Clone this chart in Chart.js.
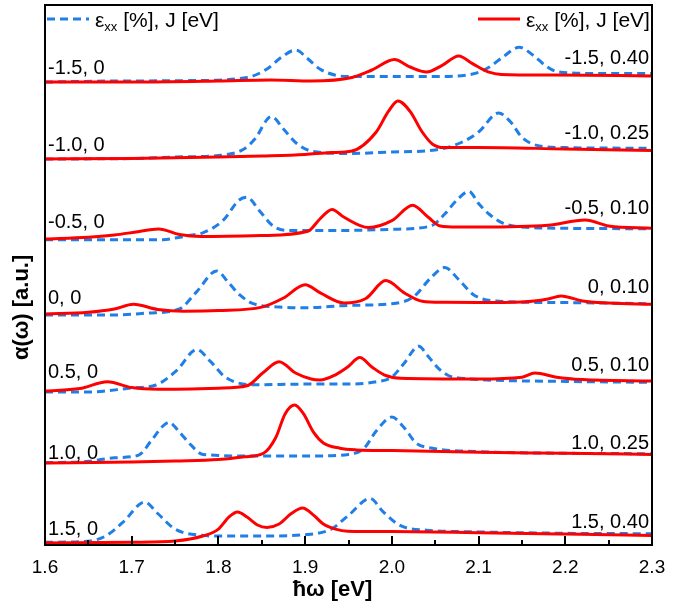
<!DOCTYPE html>
<html>
<head>
<meta charset="utf-8">
<script src="https://cdn.jsdelivr.net/npm/chart.js@4.4.0/dist/chart.umd.min.js"></script>
<style>
  html, body { margin: 0; padding: 0; background: #fff; }
  #wrap { width: 693px; height: 608px; }
</style>
</head>
<body>
<div id="wrap"><canvas id="chart" width="693" height="608"></canvas></div>
<script>
// spectra: [photon energy (eV), alpha (a.u., stacked offset included)]
// red = J > 0, blue dashed = J = 0 ; one pair per strain value
const redM15 = [[1.60,463],[1.70,463],[1.80,464],[1.86,465],[1.907,464],[1.954,467.5],[1.977,475],[2.003,485.4],[2.021,478],[2.04,473],[2.058,479.6],[2.077,489],[2.093,481.4],[2.112,472.8],[2.126,470.6],[2.186,470],[2.30,469]];
const blueM15 = [[1.60,463],[1.685,464],[1.768,464.4],[1.833,467.5],[1.856,476],[1.873,488],[1.889,495],[1.903,486.3],[1.917,476],[1.935,469.8],[1.954,468.4],[2.047,468.4],[2.093,470.9],[2.112,477.7],[2.128,488],[2.147,497.7],[2.163,489.8],[2.177,479.5],[2.191,473.3],[2.233,471.6],[2.30,471.6]];

const redM10 = [[1.60,386],[1.70,386.5],[1.80,388],[1.85,389],[1.90,390.5],[1.93,392.5],[1.954,394],[1.982,413],[1.996,433.6],[2.007,444],[2.021,433.6],[2.035,413],[2.047,400.8],[2.06,397.4],[2.10,397.5],[2.20,396],[2.30,394.6]];
const blueM10 = [[1.60,386],[1.70,386.5],[1.75,388],[1.80,389.5],[1.829,395.7],[1.842,406],[1.861,428.4],[1.875,416],[1.889,402.5],[1.907,394],[1.95,391.5],[2.00,393],[2.05,395],[2.08,402.5],[2.10,413],[2.123,431.9],[2.137,423],[2.15,407.7],[2.17,399],[2.20,397.4],[2.30,396.7]];

const redM05 = [[1.60,306],[1.65,307.7],[1.68,310],[1.705,313],[1.731,316],[1.755,310.5],[1.78,308.4],[1.85,309.4],[1.903,313.7],[1.917,326],[1.931,335.6],[1.945,327.7],[1.973,317.4],[2.0,324.3],[2.024,339.8],[2.042,327.7],[2.056,319],[2.075,318],[2.10,318],[2.18,319.8],[2.223,325],[2.25,319],[2.30,316.7]];
const blueM05 = [[1.60,305.3],[1.736,305.3],[1.75,307],[1.768,309.8],[1.782,312.2],[1.805,324.3],[1.824,345],[1.833,347.7],[1.847,334.6],[1.863,319],[1.88,314.6],[1.95,314.6],[2.0,315.7],[2.045,319],[2.061,331],[2.075,345],[2.089,353.6],[2.10,341.5],[2.112,331],[2.126,322.6],[2.14,319],[2.20,316.7],[2.30,316.3]];

const red00 = [[1.60,231],[1.65,232.7],[1.68,236],[1.702,240.7],[1.73,235.5],[1.76,233.8],[1.80,234.4],[1.85,237.9],[1.875,247],[1.90,260.3],[1.918,251.8],[1.945,242],[1.97,246.5],[1.993,264.4],[2.015,251.8],[2.035,243.8],[2.06,242.7],[2.10,242.4],[2.15,243],[2.18,246],[2.195,249],[2.22,244],[2.25,242],[2.30,240.7]];
const blue00 = [[1.60,230],[1.68,230],[1.72,232],[1.755,236],[1.775,253.4],[1.798,274],[1.812,262],[1.825,249.8],[1.84,241.3],[1.87,238],[1.90,237.2],[1.95,239.6],[2.00,241.3],[2.025,248.2],[2.045,267.2],[2.061,277.6],[2.077,265.5],[2.095,249.8],[2.12,243.9],[2.20,242.4],[2.30,241.3]];

const redP05 = [[1.60,154],[1.64,156.4],[1.672,163.3],[1.70,157.4],[1.73,155.7],[1.80,156.8],[1.833,159.2],[1.851,172],[1.87,183.3],[1.889,172],[1.907,166],[1.917,165],[1.935,170.2],[1.949,178],[1.963,187.4],[1.977,178],[1.991,170.2],[2.01,166.8],[2.10,166],[2.15,167.8],[2.165,172],[2.19,167.8],[2.22,165.4],[2.30,164]];
const blueP05 = [[1.60,153],[1.65,153],[1.70,157],[1.728,160],[1.752,174.7],[1.775,195.4],[1.791,183.3],[1.808,167.8],[1.84,160.2],[1.90,160.9],[1.95,160.9],[1.98,163],[2.0,168],[2.014,181.6],[2.031,198.8],[2.042,188.5],[2.054,176.4],[2.065,169.5],[2.079,166.8],[2.20,163.6],[2.30,162.6]];

const redP10 = [[1.60,82],[1.70,83],[1.75,84],[1.80,85.4],[1.83,88.2],[1.852,91.7],[1.866,107.2],[1.877,131.3],[1.888,140],[1.898,131.3],[1.91,112.3],[1.921,102],[1.94,96.8],[1.959,95.1],[2.00,94.4],[2.10,92.7],[2.20,91.7],[2.30,90.6]];
const blueP10 = [[1.60,82.3],[1.65,83.7],[1.68,87.2],[1.708,89.9],[1.722,103.7],[1.736,119],[1.743,122.7],[1.754,114],[1.768,100.3],[1.782,90.6],[1.85,88.9],[1.90,88.9],[1.95,90.6],[1.968,96.8],[1.982,114],[2.0,127.9],[2.014,117.5],[2.028,102],[2.047,96.8],[2.10,93.4],[2.20,91.7],[2.30,91.3]];

const redP15 = [[1.60,2],[1.70,2.7],[1.75,4],[1.782,9],[1.80,15.9],[1.812,27.9],[1.822,33],[1.833,27.9],[1.845,20],[1.856,17.6],[1.87,21],[1.884,31.4],[1.897,37],[1.91,29.6],[1.921,21],[1.935,15.9],[1.949,13.8],[2.00,13.4],[2.10,12.3],[2.20,11],[2.30,9.6]];
const blueP15 = [[1.60,2.7],[1.65,3.8],[1.67,9],[1.69,22.8],[1.715,43],[1.73,31.5],[1.75,15.9],[1.78,9.7],[1.80,9],[1.85,9],[1.90,10.3],[1.93,15.8],[1.95,29.6],[1.975,46.5],[1.99,33.1],[2.01,19.3],[2.04,14.8],[2.10,13.1],[2.20,11.7],[2.30,11.3]];

const redSeries = [redM15, redM10, redM05, red00, redP05, redP10, redP15];
const blueSeries = [blueM15, blueM10, blueM05, blue00, blueP05, blueP10, blueP15];

// curve labels ("strain, J") and the alpha level they sit at
const leftLabels = ['-1.5, 0', '-1.0, 0', '-0.5, 0', '0, 0', '0.5, 0', '1.0, 0', '1.5, 0'];
const leftLabelY = [477, 400, 323, 247, 173, 92, 16];
const rightLabels = ['-1.5, 0.40', '-1.0, 0.25', '-0.5, 0.10', '0, 0.10', '0.5, 0.10', '1.0, 0.25', '1.5, 0.40'];
const rightLabelY = [487, 412, 337, 258, 180, 102, 23];

const xTicks = [1.6, 1.7, 1.8, 1.9, 2.0, 2.1, 2.2, 2.3];

const RED = '#ff0000';
const BLUE = '#1f7fe6';
const FONT = '"Liberation Sans", Arial, sans-serif';

const toXY = (arr) => arr.map(p => ({ x: p[0], y: p[1] }));

const datasets = [];
redSeries.forEach(s => datasets.push({
  data: toXY(s), borderColor: RED, borderWidth: 3, pointRadius: 0,
  cubicInterpolationMode: 'monotone', order: 0
}));
blueSeries.forEach(s => datasets.push({
  data: toXY(s), borderColor: BLUE, borderWidth: 3, borderDash: [8, 5], pointRadius: 0,
  cubicInterpolationMode: 'monotone', order: 1
}));

// frame, inward ticks, tick labels, axis titles, curve labels and legend
const overlay = {
  id: 'overlay',
  afterDatasetsDraw(chart) {
    const ctx = chart.ctx;
    const a = chart.chartArea;
    const xs = chart.scales.x;
    const ys = chart.scales.y;
    ctx.save();

    // ticks every 0.05, major every 0.1
    ctx.strokeStyle = '#000';
    ctx.lineWidth = 2;
    for (let i = 1; i < 14; i++) {
      const px = Math.round(xs.getPixelForValue(1.6 + i * 0.05));
      const len = i % 2 === 0 ? 9 : 5;
      ctx.beginPath();
      ctx.moveTo(px, a.bottom);
      ctx.lineTo(px, a.bottom - len);
      ctx.stroke();
    }
    ctx.strokeRect(a.left, a.top, a.right - a.left, a.bottom - a.top);

    ctx.fillStyle = '#000';
    ctx.textAlign = 'center';
    ctx.textBaseline = 'middle';
    ctx.font = '19px ' + FONT;
    xTicks.forEach(v => ctx.fillText(v.toFixed(1), xs.getPixelForValue(v), a.bottom + 23));

    ctx.font = 'bold 22px ' + FONT;
    ctx.fillText('ħω [eV]', (a.left + a.right) / 2 - 16, a.bottom + 45);
    ctx.save();
    ctx.translate(22, a.top + (a.bottom - a.top) * 0.56);
    ctx.rotate(-Math.PI / 2);
    ctx.fillText('α(ω) [a.u.]', 0, 0);
    ctx.restore();

    // curve labels
    ctx.font = '20px ' + FONT;
    ctx.textAlign = 'left';
    leftLabels.forEach((t, i) => ctx.fillText(t, a.left + 3, ys.getPixelForValue(leftLabelY[i])));
    ctx.textAlign = 'right';
    rightLabels.forEach((t, i) => ctx.fillText(t, a.right - 3, ys.getPixelForValue(rightLabelY[i])));

    // legend
    const drawEntry = (x0, color, dash) => {
      const ly = a.top + 14;
      ctx.strokeStyle = color;
      ctx.lineWidth = 3;
      ctx.setLineDash(dash);
      ctx.beginPath();
      ctx.moveTo(x0, ly);
      ctx.lineTo(x0 + 42, ly);
      ctx.stroke();
      ctx.setLineDash([]);
      let x = x0 + 48;
      ctx.textAlign = 'left';
      ctx.textBaseline = 'alphabetic';
      ctx.font = '21px ' + FONT;
      ctx.fillText('ε', x, ly + 8);
      x += ctx.measureText('ε').width;
      ctx.font = '13px ' + FONT;
      ctx.fillText('xx', x, ly + 12);
      x += ctx.measureText('xx').width;
      ctx.font = '21px ' + FONT;
      ctx.fillText(' [%], J [eV]', x, ly + 8);
    };
    drawEntry(a.left + 2, BLUE, [8, 5]);
    drawEntry(a.right - 174, RED, []);

    ctx.restore();
  }
};

new Chart(document.getElementById('chart'), {
  type: 'line',
  data: { datasets },
  options: {
    responsive: false,
    animation: false,
    layout: { padding: { left: 45, right: 41, top: 5, bottom: 63 } },
    plugins: { legend: { display: false }, tooltip: { enabled: false } },
    scales: {
      x: {
        type: 'linear', min: 1.6, max: 2.3,
        grid: { display: false, drawTicks: false },
        border: { display: false },
        ticks: { display: false }
      },
      y: {
        min: 0, max: 540,
        grid: { display: false, drawTicks: false },
        border: { display: false },
        ticks: { display: false }
      }
    }
  },
  plugins: [overlay]
});
</script>
</body>
</html>
